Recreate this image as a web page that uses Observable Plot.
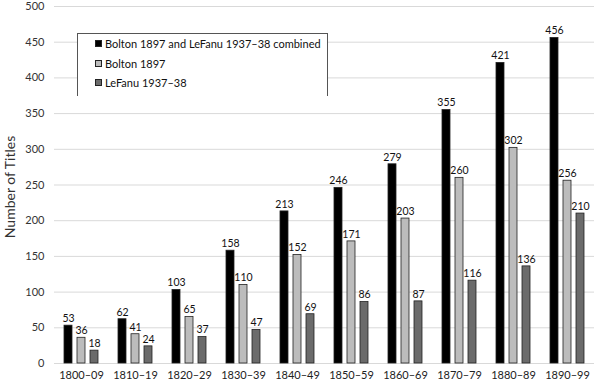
<!DOCTYPE html>
<html><head><meta charset="utf-8">
<script src="https://cdn.jsdelivr.net/npm/d3@7"></script>
<script src="https://cdn.jsdelivr.net/npm/@observablehq/plot@0.6"></script>
<style>
body{margin:0;background:#fff;}
#wrap{position:relative;width:600px;height:383px;font-family:Lato,"Open Sans",sans-serif;}
#ylab{position:absolute;left:9px;top:187px;transform:translate(-50%,-50%) rotate(-90deg);font-size:14px;color:#333;white-space:nowrap;}
#legend{position:absolute;left:77px;top:33px;width:249px;height:62px;border:1px solid #555;border-bottom:none;background:#fff;font-size:11px;color:#111;}
.li{position:absolute;left:17px;display:flex;align-items:center;white-space:nowrap;}
.sw{width:7px;height:7px;border:1px solid #222;margin-right:3px;box-sizing:border-box;}
</style></head>
<body><div id="wrap"></div>
<script>
const decades = ["1800–09","1810–19","1820–29","1830–39","1840–49","1850–59","1860–69","1870–79","1880–89","1890–99"];
const series = ["Bolton 1897 and LeFanu 1937–38 combined","Bolton 1897","LeFanu 1937–38"];
const combined = [53,62,103,158,213,246,279,355,421,456];
const bolton = [36,41,65,110,152,171,203,260,302,256];
const lefanu = [18,24,37,47,69,86,87,116,136,210];
const yTicks = [0,50,100,150,200,250,300,350,400,450,500];
const colors = ["#000000","#bcbcbc","#6b6b6b"];

const values = [combined, bolton, lefanu];
const data = [];
decades.forEach((d,i)=>series.forEach((s,j)=>data.push({decade:d, series:s, value:values[j][i]})));

const chart = Plot.plot({
  width:600, height:383,
  marginLeft:52, marginRight:5, marginTop:6, marginBottom:20,
  style:{fontFamily:"Lato, 'Open Sans', sans-serif", fontSize:"11px", color:"#222", background:"#fff"},
  fx:{domain:decades, padding:0, label:null},
  x:{domain:series, paddingInner:0.36, paddingOuter:0.62, axis:null},
  y:{domain:[0,500], label:null},
  color:{domain:series, range:colors},
  marks:[
    Plot.gridY(yTicks, {stroke:"#d9d9d9", strokeOpacity:1}),
    Plot.axisY(yTicks, {tickSize:0, tickPadding:10, label:null, fill:"#333", fontSize:11}),
    Plot.axisFx({anchor:"bottom", tickSize:0, tickPadding:8, label:null, fill:"#222", fontSize:11}),
    Plot.barY(data, {fx:"decade", x:"series", y:"value", fill:"series", stroke:"#222", strokeWidth:0.8}),
    Plot.text(data, {fx:"decade", x:"series", y:"value", text:d=>String(d.value), dy:-7, fill:"#111", fontSize:10.5})
  ]
});
const wrap = document.getElementById("wrap");
wrap.appendChild(chart);
const yl = document.createElement("div"); yl.id="ylab"; yl.textContent="Number of Titles"; wrap.appendChild(yl);
const lg = document.createElement("div"); lg.id="legend";
series.forEach((s,j)=>{
  const it=document.createElement("div"); it.className="li"; it.style.top=(3+j*19.5)+"px";
  const sw=document.createElement("div"); sw.className="sw"; sw.style.background=colors[j];
  const t=document.createElement("span"); t.textContent=s;
  it.appendChild(sw); it.appendChild(t); lg.appendChild(it);
});
wrap.appendChild(lg);
</script></body></html>
